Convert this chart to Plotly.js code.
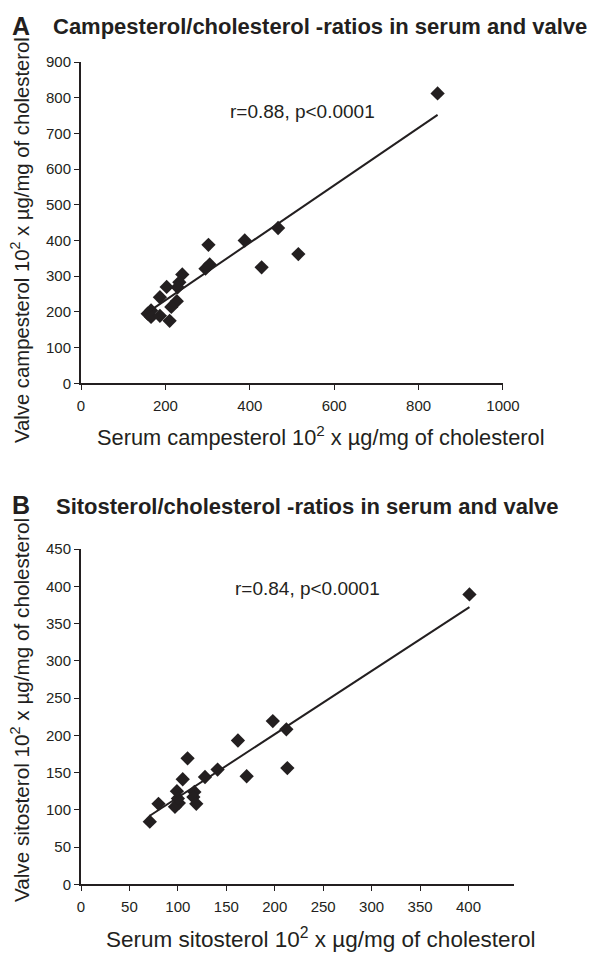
<!DOCTYPE html>
<html>
<head>
<meta charset="utf-8">
<script src="https://cdn.plot.ly/plotly-3.0.1.min.js"></script>
<style>html,body{margin:0;padding:0;background:#fff;}#chart{width:605px;height:953px;}</style>
</head>
<body>
<div id="chart"></div>
<script>
// Panel A: campesterol (serum vs valve)
const campSerum = [845, 515, 428, 467, 388, 302, 305, 295, 240, 233, 229, 203, 187, 227, 214, 166, 158, 166, 187, 210];
const campValve = [812, 362, 325, 435, 400, 388, 333, 321, 305, 283, 269, 270, 241, 230, 214, 204, 195, 186, 189, 175];
const campFitX = [157, 845];
const campFitY = [198, 752];
const campXTicks = [0, 200, 400, 600, 800, 1000];
const campYTicks = [0, 100, 200, 300, 400, 500, 600, 700, 800, 900];

// Panel B: sitosterol (serum vs valve)
const sitoSerum = [401, 198, 212, 213, 162, 110, 171, 141, 128, 105, 99, 117, 116, 119, 101, 97, 80, 71, 100];
const sitoValve = [389, 219, 208, 156, 193, 169, 145, 154, 144, 141, 125, 124, 117, 108, 109, 104, 108, 84, 115];
const sitoFitX = [71, 401];
const sitoFitY = [92, 372];
const sitoXTicks = [0, 50, 100, 150, 200, 250, 300, 350, 400];
const sitoYTicks = [0, 50, 100, 150, 200, 250, 300, 350, 400, 450];

const ink = '#231f20';
const FAM = '"Liberation Sans", Arial, sans-serif';
const tickFont = {family: FAM, size: 15, color: ink};
const statFont = {family: FAM, size: 19, color: ink};
const boldFont = {family: FAM, size: 22, color: ink, weight: 'bold'};
function f(size) { return {family: FAM, size: size, color: ink}; }

function axis(extra) {
  return Object.assign({
    showline: true, linecolor: ink, linewidth: 2, mirror: false,
    showgrid: false, zeroline: false,
    ticks: 'outside', ticklen: 5, tickwidth: 1, tickcolor: ink,
    tickfont: tickFont, tickmode: 'array', fixedrange: true
  }, extra);
}

const marker = {symbol: 'diamond', size: 11, color: ink, line: {width: 0}};

const data = [
  {x: campSerum, y: campValve, xaxis: 'x', yaxis: 'y', mode: 'markers', type: 'scatter', marker: marker, cliponaxis: false},
  {x: campFitX, y: campFitY, xaxis: 'x', yaxis: 'y', mode: 'lines', type: 'scatter', line: {color: ink, width: 2}},
  {x: sitoSerum, y: sitoValve, xaxis: 'x2', yaxis: 'y2', mode: 'markers', type: 'scatter', marker: marker, cliponaxis: false},
  {x: sitoFitX, y: sitoFitY, xaxis: 'x2', yaxis: 'y2', mode: 'lines', type: 'scatter', line: {color: ink, width: 2}}
];

const layout = {
  width: 605, height: 953,
  margin: {l: 0, r: 0, t: 0, b: 0},
  paper_bgcolor: '#fff', plot_bgcolor: '#fff',
  showlegend: false,
  xaxis: axis({domain: [0.1339, 0.8314], range: [0, 1000], tickvals: campXTicks, ticktext: campXTicks.map(String), anchor: 'y', ticklabelstandoff: 3}),
  yaxis: axis({domain: [0.5978, 0.9349], range: [0, 900], tickvals: campYTicks, ticktext: campYTicks.map(String), anchor: 'x'}),
  xaxis2: axis({domain: [0.1339, 0.8496], range: [0, 447], tickvals: sitoXTicks, ticktext: sitoXTicks.map(String), anchor: 'y2', ticklabelstandoff: 3}),
  yaxis2: axis({domain: [0.0721, 0.4239], range: [0, 450], tickvals: sitoYTicks, ticktext: sitoYTicks.map(String), anchor: 'x2'}),
  annotations: [
    {xref: 'paper', yref: 'paper', x: 10/605, y: 1 - 26/953, text: '<b>A</b>', showarrow: false, xanchor: 'left', yanchor: 'middle', font: Object.assign({}, boldFont, {size: 25})},
    {xref: 'paper', yref: 'paper', x: 51/605, y: 1 - 27/953, text: '<b>Campesterol/cholesterol -ratios in serum and valve</b>', showarrow: false, xanchor: 'left', yanchor: 'middle', font: boldFont},
    {xref: 'paper', yref: 'paper', x: 10/605, y: 1 - 505/953, text: '<b>B</b>', showarrow: false, xanchor: 'left', yanchor: 'middle', font: Object.assign({}, boldFont, {size: 25})},
    {xref: 'paper', yref: 'paper', x: 54/605, y: 1 - 506/953, text: '<b>Sitosterol/cholesterol -ratios in serum and valve</b>', showarrow: false, xanchor: 'left', yanchor: 'middle', font: boldFont},
    {xref: 'x', yref: 'y', x: 526, y: 762, text: 'r=0.88, p<0.0001', showarrow: false, font: statFont},
    {xref: 'x2', yref: 'y2', x: 234, y: 397, text: 'r=0.84, p<0.0001', showarrow: false, font: statFont},
    {xref: 'paper', yref: 'paper', x: 321/605, y: 1 - 436/953, text: 'Serum campesterol 10<sup>2</sup> x µg/mg of cholesterol', showarrow: false, xanchor: 'center', yanchor: 'middle', font: f(21.8)},
    {xref: 'paper', yref: 'paper', x: 320/605, y: 1 - 938/953, text: 'Serum sitosterol 10<sup>2</sup> x µg/mg of cholesterol', showarrow: false, xanchor: 'center', yanchor: 'middle', font: f(22.5)},
    {xref: 'paper', yref: 'paper', x: 20/605, y: 1 - 240/953, text: 'Valve campesterol 10<sup>2</sup> x µg/mg of cholesterol', showarrow: false, textangle: -90, xanchor: 'center', yanchor: 'middle', font: f(20.3)},
    {xref: 'paper', yref: 'paper', x: 20/605, y: 1 - 710/953, text: 'Valve sitosterol 10<sup>2</sup> x µg/mg of cholesterol', showarrow: false, textangle: -90, xanchor: 'center', yanchor: 'middle', font: f(20.7)}
  ]
};

Plotly.newPlot('chart', data, layout, {staticPlot: true, displayModeBar: false});
</script>
</body>
</html>
